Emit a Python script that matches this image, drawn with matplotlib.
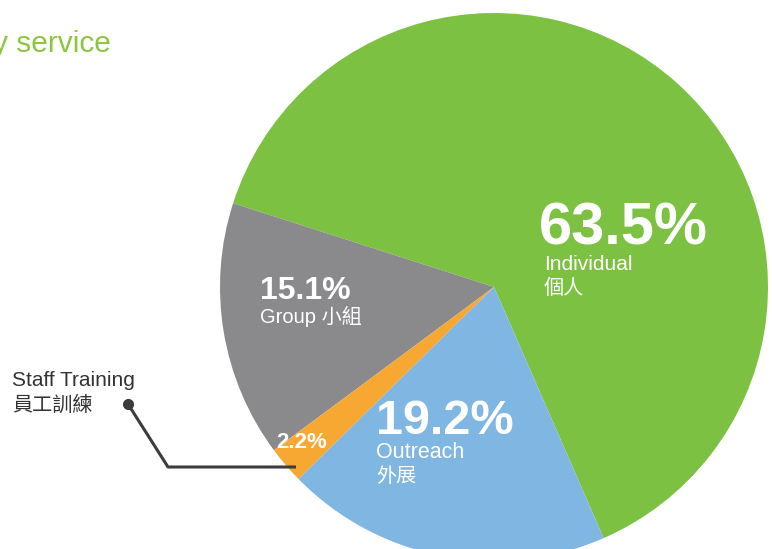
import matplotlib
matplotlib.use("Agg")
import matplotlib.pyplot as plt

# share of service hours
categories = ["Individual", "Group", "Staff Training", "Outreach"]
categories_zh = ["個人", "小組", "員工訓練", "外展"]
shares = [63.5, 15.1, 2.2, 19.2]
colors = ["#7dc142", "#8a8a8d", "#f6a832", "#80b6e2"]

plt.rcParams['font.family'] = ['Liberation Sans', 'Noto Sans CJK TC', 'DejaVu Sans']

W, H = 772, 549
fig = plt.figure(figsize=(W / 100, H / 100), dpi=100)
ax = fig.add_axes([0, 0, 1, 1])

# pixel-like coordinates, y measured from the top
def py(y):
    return H - y

cx, cy, r = 494, 287, 274
ax.pie(shares, colors=colors, startangle=-66.4, counterclock=True,
       center=(cx, py(cy)), radius=r, wedgeprops=dict(linewidth=0))

ax.set_xlim(0, W)
ax.set_ylim(0, H)
ax.set_aspect('equal')
ax.axis('off')

# partly cropped title
ax.text(111, py(44), "y service", color="#8cc63f", fontsize=21.5,
        ha="right", va="center")

white = "white"
# Individual
ax.text(539, py(229), f"{shares[0]}%", color=white, fontsize=43,
        fontweight="bold", ha="left", va="center")
ax.text(544, py(264), categories[0], color=white, fontsize=15,
        ha="left", va="center")
ax.text(544, py(288), categories_zh[0], color=white, fontsize=14.5,
        ha="left", va="center")

# Group
ax.text(260, py(291), f"{shares[1]}%", color=white, fontsize=23,
        fontweight="bold", ha="left", va="center")
ax.text(260, py(316), f"{categories[1]} {categories_zh[1]}", color=white,
        fontsize=14.5, ha="left", va="center")

# Outreach
ax.text(376, py(421), f"{shares[3]}%", color=white, fontsize=35,
        fontweight="bold", ha="left", va="center")
ax.text(376, py(453), categories[3], color=white, fontsize=15.5,
        ha="left", va="center")
ax.text(376, py(476), categories_zh[3], color=white, fontsize=14.5,
        ha="left", va="center")

# Staff Training
ax.text(276, py(443), f"{shares[2]}%", color=white, fontsize=16,
        fontweight="bold", ha="left", va="center")
ax.text(12, py(380), categories[2], color="#333333", fontsize=15,
        ha="left", va="center")
ax.text(12, py(405), categories_zh[2], color="#333333", fontsize=14.5,
        ha="left", va="center")
ax.plot([128, 168, 296], [py(404), py(467), py(467)], color="#3c3c3c",
        linewidth=2.2, solid_capstyle="butt")
ax.plot([128], [py(404)], "o", color="#3c3c3c", markersize=7)

fig.savefig("out.png", dpi=100)
